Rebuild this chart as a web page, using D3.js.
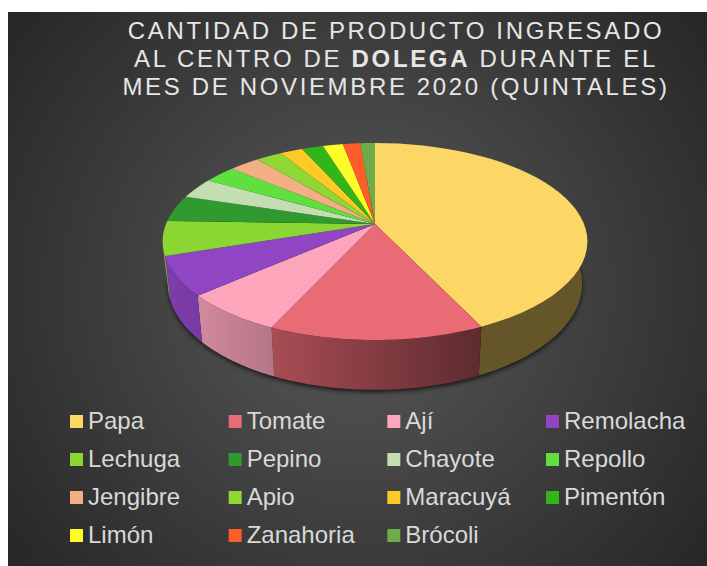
<!DOCTYPE html>
<html><head><meta charset="utf-8">
<script src="https://cdn.jsdelivr.net/npm/d3@7"></script>
<style>html,body{margin:0;padding:0;background:#fff}svg{display:block}text{font-family:"Liberation Sans",Arial,sans-serif}</style>
</head><body><svg id="c" width="707" height="566"></svg>
<script>
const categories=["Papa","Tomate","Ají","Remolacha","Lechuga","Pepino","Chayote","Repollo","Jengibre","Apio","Maracuyá","Pimentón","Limón","Zanahoria","Brócoli"];
const values=[1547,498,240,230,203,157,122,106,99,86,73,70,65,56,48];
const colors=["#fdd766","#e96b75","#fca5bb","#8f45c4","#8cd633","#309930","#c3deb2","#5fe03f","#f2ae84","#8fd733","#fdca28","#31b518","#fdfb28","#fd5c2b","#6fab46"];
const titleLines=[[["CANTIDAD DE PRODUCTO INGRESADO",400]],[["AL CENTRO DE ",400],["DOLEGA",700],[" DURANTE EL",400]],[["MES DE NOVIEMBRE 2020 (QUINTALES)",400]]];

const svg=d3.select("#c"),W=707,H=566;
const defs=svg.append("defs");
const bg=defs.append("radialGradient").attr("id","bg").attr("gradientUnits","userSpaceOnUse")
 .attr("cx",358).attr("cy",289).attr("r",440);
bg.append("stop").attr("offset",0).attr("stop-color","#5a5a5a");
bg.append("stop").attr("offset",1).attr("stop-color","#272727");
defs.append("filter").attr("id","blur").attr("x","-10%").attr("y","-10%").attr("width","120%").attr("height","120%")
 .append("feGaussianBlur").attr("stdDeviation",2.5);
svg.append("rect").attr("x",8).attr("y",12).attr("width",W-8).attr("height",H-12).attr("fill","url(#bg)");

// perspective projection of the pie disc
const cx=375,cy=224,A=209,B=95.4,k=0.1777,D=41,shrink=0.975;
const top3=t=>{const x=Math.sin(t),y=-Math.cos(t),w=1-k*y;return [cx+A*x/w,cy+B*y/w];};
const bot3=t=>{const x=Math.sin(t),y=-Math.cos(t),w=1-k*y,p=top3(t);return [cx+(p[0]-cx)*shrink,p[1]+D/w];};
const arcs=d3.pie().sort(null).value(d=>d)(values);
const samples=(a,b)=>d3.range(0,41).map(i=>a+(b-a)*i/40);
const line=d3.line();
const light=d3.scaleLinear().domain([165,197,271,481]).range([.88,.84,.72,.40]).clamp(true);
const shade=(c,f)=>{const r=d3.rgb(c);return d3.rgb(r.r*f,r.g*f,r.b*f).formatHex();};

// soft shadow under the pie
const full=samples(0,2*Math.PI);
svg.append("path").attr("d",line(full.map(bot3).map(p=>[p[0],p[1]+2]))+"Z").attr("fill","#000").attr("opacity",.8).attr("filter","url(#blur)");

// side walls (only the front of the disc is visible)
const g=svg.append("g");
arcs.forEach((d,i)=>{
  const a=Math.max(d.startAngle,Math.PI/2*0.98),b=Math.min(d.endAngle,Math.PI*1.43);
  if(b<=a) return;
  const ts=samples(a,b),tp=ts.map(top3),bt=ts.map(bot3).reverse();
  const x0=top3(a)[0],x1=top3(b)[0];
  const gr=defs.append("linearGradient").attr("id","w"+i).attr("gradientUnits","userSpaceOnUse")
    .attr("x1",x0).attr("x2",x1).attr("y1",0).attr("y2",0);
  gr.append("stop").attr("offset",0).attr("stop-color",shade(colors[i],light(x0)));
  gr.append("stop").attr("offset",1).attr("stop-color",shade(colors[i],light(x1)));
  g.append("path").attr("d",line(tp.concat(bt))+"Z").attr("fill",`url(#w${i})`);
});
// top faces
arcs.forEach((d,i)=>{
  const pts=[[cx,cy]].concat(samples(d.startAngle,d.endAngle).map(top3));
  g.append("path").attr("d",line(pts)+"Z").attr("fill",colors[i]);
});

// title
const tg=svg.append("g").attr("fill","#e6e6e6").attr("font-size",24);
titleLines.forEach((runs,i)=>{
  const t=tg.append("text").attr("x",396).attr("y",39+i*28).attr("text-anchor","middle").attr("letter-spacing",2.65);
  runs.forEach(r=>t.append("tspan").attr("font-weight",r[1]).style("white-space","pre").text(r[0]));
});

// legend
const colX=d3.scalePoint().domain(d3.range(4)).range([70,546]);
const rowY=d3.scalePoint().domain(d3.range(4)).range([415,529]);
const lg=svg.append("g").selectAll("g").data(categories).join("g")
 .attr("transform",(d,i)=>`translate(${colX(i%4)},${rowY(Math.floor(i/4))})`);
lg.append("rect").attr("width",13).attr("height",13).attr("fill",(d,i)=>colors[i]);
lg.append("text").attr("x",18).attr("y",13.5).attr("font-size",24).attr("fill","#d9d9d9").text(d=>d);
</script></body></html>
